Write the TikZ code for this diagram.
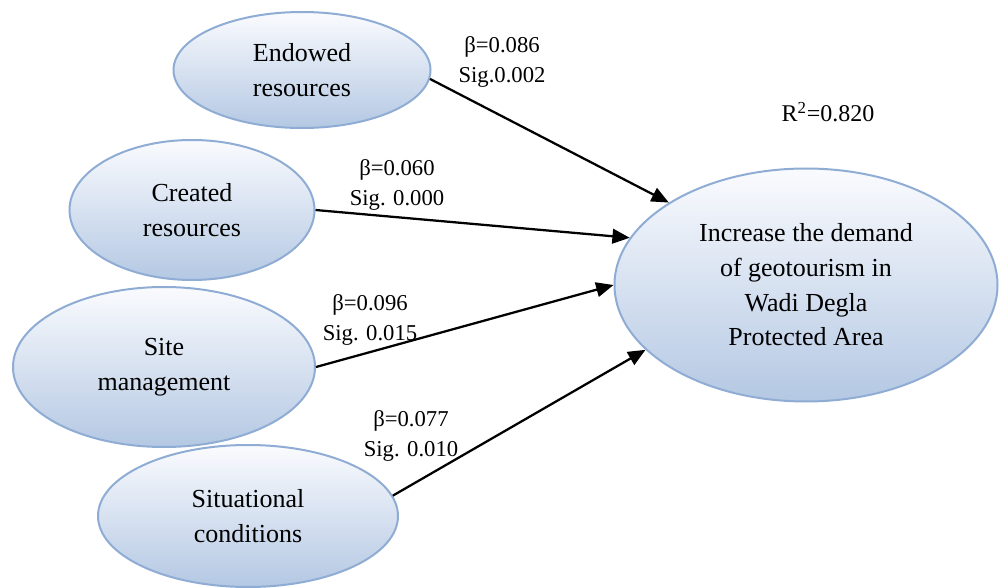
\documentclass[tikz,border=0pt]{standalone}
\usepackage{fontspec}
\setmainfont{Liberation Serif}
\usepackage{xcolor}
\usetikzlibrary{shapes.geometric,arrows.meta}
\definecolor{ellTop}{RGB}{250,251,254}
\definecolor{ellBot}{RGB}{180,200,227}
\definecolor{ellLine}{RGB}{143,172,212}

\begin{document}
\begin{tikzpicture}
	[x=0.75pt,y=-0.75pt,
	fac/.style={ellipse,draw=ellLine,line width=1.5pt,top color=ellTop,bottom color=ellBot,inner sep=0pt,align=center,font=\fontsize{19.5}{26}\selectfont},
	coef/.style={align=center,inner sep=0pt,font=\fontsize{17}{22.5}\selectfont},
	arr/.style={-{Triangle[length=13pt,width=11pt]},line width=1.7pt}]
	\useasboundingbox (0,0) rectangle (1004,588);
	%FACTORS
	\node[fac,minimum width=192.75pt,minimum height=87pt] (endowed) at (302,70) {Endowed\\resources};
	\node[fac,minimum width=183.75pt,minimum height=105pt] (created) at (192,210) {Created\\resources};
	\node[fac,minimum width=226.5pt,minimum height=120pt] (site) at (164,367) {Site\\management};
	\node[fac,minimum width=225pt,minimum height=106.5pt] (situ) at (248,516) {Situational\\conditions};
	%DEMAND
	\node[fac,minimum width=287.25pt,minimum height=174.75pt] (demand) at (806,285) {Increase the demand\\of geotourism in\\Wadi Degla\\Protected Area};
	%PATHS
	\foreach \s/\a/\b in {endowed/-4/149,created/0/165,site/0/180,situ/8/202}
		\path[arr] (\s.\a) edge (demand.\b);
	\node[coef] (c1) at (502,62) {β=0.086\\Sig.0.002};
	\node[coef] (c2) at (397,185) {β=0.060\\Sig. 0.000};
	\node[coef] (c3) at (370,320) {β=0.096\\Sig. 0.015};
	\node[coef] (c4) at (411,436) {β=0.077\\Sig. 0.010};
	\node[coef,font=\fontsize{18}{22}\selectfont] (r2) at (828,112) {R\textsuperscript{2}=0.820};
\end{tikzpicture}
\end{document}
